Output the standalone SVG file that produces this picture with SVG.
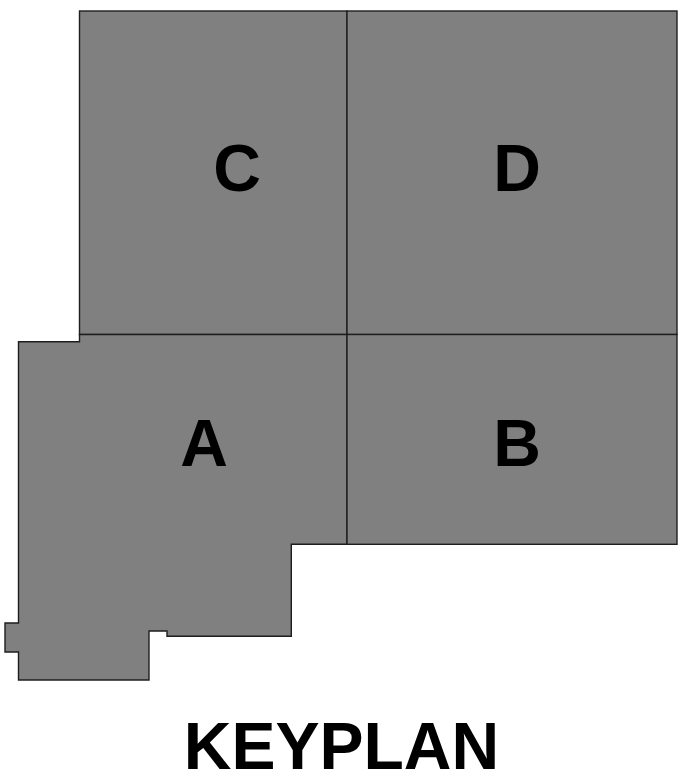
<svg xmlns="http://www.w3.org/2000/svg" width="685" height="774" viewBox="0 0 685 774">
<style>
.area{fill:#808080;stroke:#1e1e1e;stroke-width:1.4;stroke-linejoin:miter}
.lbl{font-family:"Liberation Sans",Arial,sans-serif;font-weight:bold;font-size:66px;fill:#000;text-anchor:middle}
.title{font-family:"Liberation Sans",Arial,sans-serif;font-weight:bold;font-size:66px;fill:#000;text-anchor:middle}
</style>
<rect width="685" height="774" fill="#fff"/>
<g id="area-C">
<rect class="area" x="79.5" y="11" width="267.5" height="323.5"/>
<text class="lbl" x="237" y="191">C</text>
</g>
<g id="area-D">
<rect class="area" x="347" y="11" width="330" height="323.5"/>
<text class="lbl" x="517" y="191">D</text>
</g>
<g id="area-A">
<path class="area" d="M18.5 341.7 H79.5 V334.5 H347 V544.3 H291.3 V636.3 H167 V631 H149 V680 H18.5 V652 H5 V623 H18.5 Z"/>
<text class="lbl" x="204" y="466">A</text>
</g>
<g id="area-B">
<rect class="area" x="347" y="334.5" width="330" height="209.8"/>
<text class="lbl" x="517" y="466">B</text>
</g>
<text class="title" x="341.5" y="769">KEYPLAN</text>
</svg>
